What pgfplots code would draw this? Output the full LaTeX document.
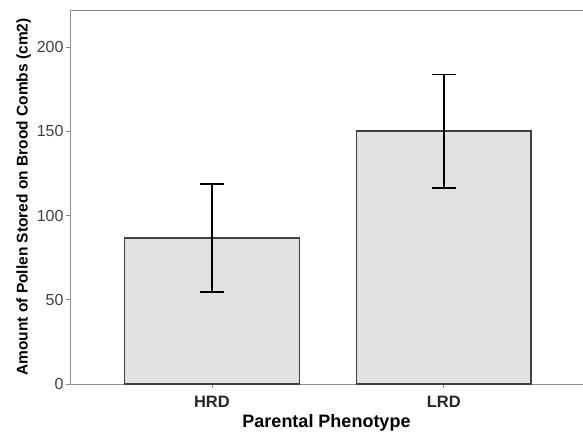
\documentclass[border=0pt]{standalone}
\usepackage{pgfplots}
\pgfplotsset{compat=1.18}
\usepackage{fontspec}
\setmainfont{Liberation Sans}
\definecolor{barfill}{HTML}{E1E1E1}
\definecolor{baredge}{HTML}{404040}
\definecolor{axgray}{HTML}{8C8C8C}
\begin{document}
\begin{tikzpicture}
\begin{axis}[
  scale only axis,
  width=513pt, height=374pt,
  xmin=-0.612, xmax=1.6,
  ymin=0, ymax=222,
  axis lines*=left,
  axis line style={axgray, line width=0.9pt},
  xtick={0,1}, xticklabels={HRD,LRD},
  ytick={0,50,100,150,200},
  tick style={axgray, line width=0.8pt},
  tick align=outside,
  major tick length=4pt,
  x tick label style={font=\fontsize{16.5}{18}\selectfont\bfseries, text=black!85, yshift=-5pt},
  y tick label style={font=\fontsize{16}{18}\selectfont, text=black!75, xshift=1pt},
  /pgf/number format/assume math mode=true,
  xlabel={\bfseries Parental Phenotype},
  ylabel={\bfseries Amount of Pollen Stored on Brood Combs (cm2)},
  xlabel style={font=\fontsize{18}{20}\selectfont, yshift=0pt},
  ylabel style={font=\fontsize{15.5}{18}\selectfont, yshift=-1pt},
  clip=false,
]
\addplot[ybar, bar width=0.754, fill=barfill, draw=baredge, line width=1.6pt,
  error bars/.cd, y dir=both, y explicit,
  error bar style={black, line width=1.6pt},
  error mark options={rotate=90, mark size=12pt, line width=1.6pt, black}]
  coordinates {(0,86.6) +- (0,32) (1,150) +- (0,33.7)};
\draw[axgray, line width=0.9pt] (rel axis cs:0,1) -- (rel axis cs:1,1);
\end{axis}
\pgfresetboundingbox
\path[use as bounding box] (-70pt,-50pt) rectangle (513pt,384pt);
\end{tikzpicture}
\end{document}
